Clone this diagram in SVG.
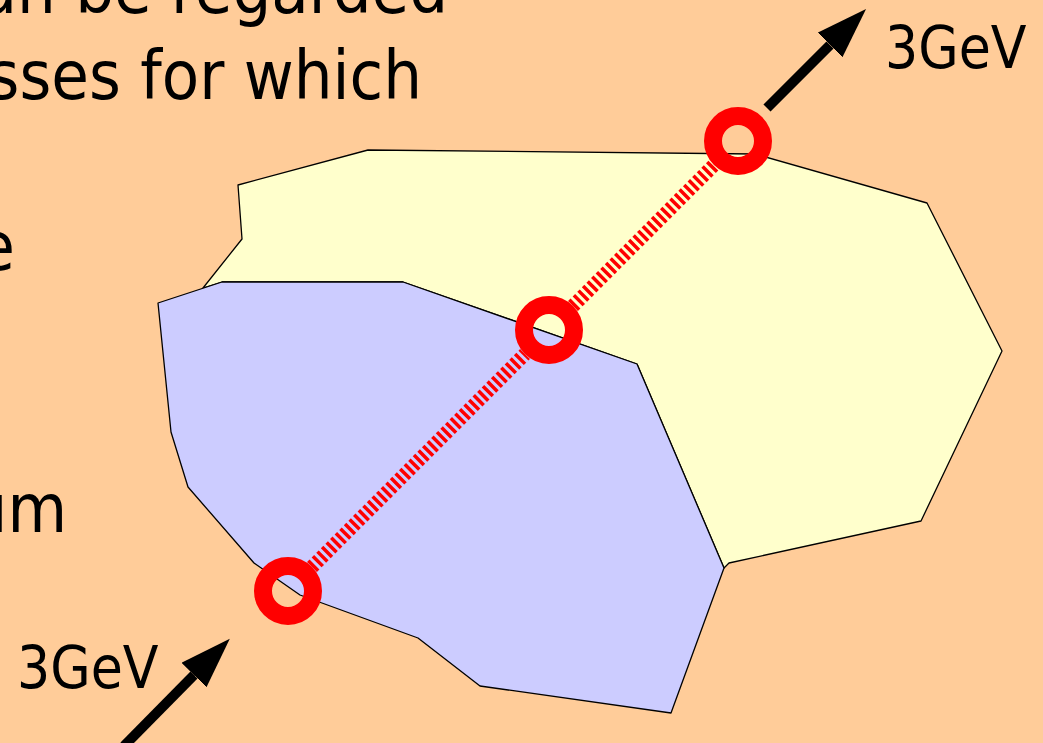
<svg xmlns="http://www.w3.org/2000/svg" width="1043" height="743" viewBox="0 0 1043 743">
  <style>
    .body { font-family: "DejaVu Sans Condensed", "DejaVu Sans", sans-serif; font-size: 68px; fill: #000; }
    .lbl { font-family: "DejaVu Sans Condensed", "DejaVu Sans", sans-serif; font-size: 58px; fill: #000; }
    .region { stroke: #000; stroke-width: 1.3; stroke-linejoin: round; }
    .ring { fill: none; stroke: #FF0000; stroke-width: 18; }
    .path { stroke: #FF0000; stroke-width: 14; stroke-dasharray: 3.5 3; }
    .arrow { stroke: #000; stroke-width: 10; fill: none; marker-end: url(#head); }
  </style>
  <defs>
    <marker id="head" viewBox="0 0 51 35" refX="0" refY="17.5" markerUnits="userSpaceOnUse" markerWidth="51" markerHeight="35" orient="auto">
      <path d="M0,0 L51,17.5 L0,35 Z" fill="#000"/>
    </marker>
  </defs>
  <rect x="0" y="0" width="1043" height="743" fill="#FFCC99"/>

  <g id="text">
    <text class="body" x="448" y="13" text-anchor="end">an be regarded</text>
    <text class="body" x="422" y="99" text-anchor="end">sses for which</text>
    <text class="body" x="15" y="270" text-anchor="end">e</text>
    <text class="body" x="67" y="532" text-anchor="end">um</text>
  </g>

  <g id="region-yellow">
    <polygon class="region" fill="#FFFFCC" points="203,288 242,239 238,185 368,150 755,154 927,203 1002,351 921,521 729,563 724,568 637,364 403,282 222,282"/>
  </g>
  <g id="region-blue">
    <polygon class="region" fill="#CCCCFF" points="158,303 222,282 403,282 637,364 724,568 671,713 480,686 418,638 300,595 254,563 188,487 171,432"/>
  </g>

  <g id="connectors">
    <line class="path" x1="312" y1="567" x2="525" y2="354"/>
    <line class="path" x1="573" y1="306" x2="714" y2="165"/>
    <line class="arrow" x1="767" y1="108" x2="830" y2="45"/>
    <line class="arrow" x1="124" y1="746" x2="194" y2="675"/>
  </g>

  <g id="vertex-bottom"><circle class="ring" cx="288" cy="591" r="25"/></g>
  <g id="vertex-middle"><circle class="ring" cx="549" cy="330" r="25"/></g>
  <g id="vertex-top"><circle class="ring" cx="738" cy="141" r="25"/></g>

  <g id="labels">
    <text class="lbl" x="885" y="68">3GeV</text>
    <text class="lbl" x="17" y="688">3GeV</text>
  </g>
</svg>
